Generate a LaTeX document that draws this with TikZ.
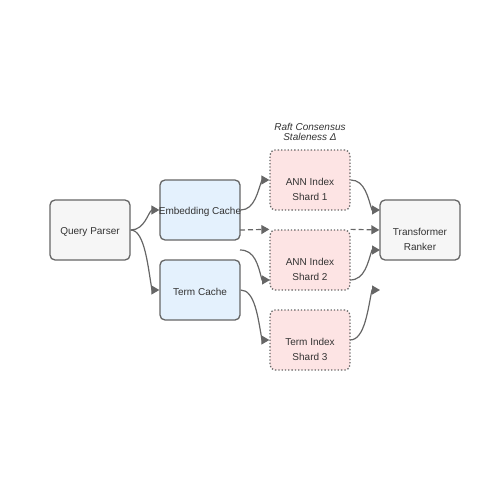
\documentclass[tikz,border=0pt]{standalone}
\usepackage{fontspec}
\setmainfont{Liberation Sans}
\usetikzlibrary{arrows.meta}
\definecolor{edgec}{HTML}{666666}
\definecolor{txt}{HTML}{333333}
\definecolor{grayfill}{HTML}{F6F6F6}
\definecolor{bluefill}{HTML}{E4F1FD}
\definecolor{pinkfill}{HTML}{FDE4E4}
\begin{document}
\begin{tikzpicture}[x=1pt,y=-1pt,
  box/.style={draw=edgec, line width=1.3pt, rounded corners=5pt, minimum width=80pt, minimum height=60pt, inner sep=0pt},
  graybox/.style={box, fill=grayfill},
  bluebox/.style={box, fill=bluefill},
  shardbox/.style={box, fill=pinkfill, dotted, line width=1.3pt},
  lbl/.style={inner sep=0pt, align=center, font=\fontsize{10}{15}\selectfont, text=txt},
  lbltwo/.style={lbl, anchor=north},
  conn/.style={draw=edgec, line width=1.2pt, -{Triangle[length=8pt,width=9pt]}},
  dconn/.style={conn, dash pattern=on 5pt off 3pt}
]
\useasboundingbox (0,0) rectangle (500,500);
\node[graybox] (qp) at (90,230) {};
\node[bluebox] (ec) at (200,210) {};
\node[bluebox] (tc) at (200,290) {};
\node[shardbox] (s1) at (310,180) {};
\node[shardbox] (s2) at (310,260) {};
\node[shardbox] (s3) at (310,340) {};
\node[graybox] (tr) at (420,230) {};

\node[lbl] (qpt) at (90,232) {Query Parser};
\node[lbl] (ect) at (200,212) {Embedding Cache};
\node[lbl] (tct) at (200,292) {Term Cache};
\node[lbltwo] (s1t) at (310,178) {ANN Index\\Shard 1};
\node[lbltwo] (s2t) at (310,258) {ANN Index\\Shard 2};
\node[lbltwo] (s3t) at (310,338) {Term Index\\Shard 3};
\node[lbltwo] (trt) at (420,228) {Transformer\\Ranker};
\node[inner sep=0pt, font=\fontsize{10}{10}\itshape\selectfont, text=txt, align=center] (note) at (310,131.5) {Raft Consensus\\Staleness Δ};

\draw[conn] (qp.east) .. controls (145,230) and (148,212) .. (152,210) -- (ec.west);
\draw[conn] (qp.east) .. controls (145,230) and (148,268) .. (152,290) -- (tc.west);
\draw[conn] (ec.east) .. controls (255,210) and (258,190) .. (262,180) -- (s1.west);
\draw[dconn] (240,230) -- (s2.north west);
\draw[conn] (240,250) .. controls (255,250) and (258,265) .. (262,280) -- (270,280);
\draw[conn] (tc.east) .. controls (255,290) and (258,318) .. (262,340) -- (s3.west);
\draw[conn] (s1.east) .. controls (365,180) and (368,198) .. (372,210) -- (380,210);
\draw[dconn] (s2.north east) -- (tr.west);
\draw[conn] (350,280) .. controls (365,280) and (368,262) .. (372,250) -- (380,250);
\draw[conn] (350,340) .. controls (365,340) and (368,308) .. (372,290) -- (380,290);
\end{tikzpicture}
\end{document}
